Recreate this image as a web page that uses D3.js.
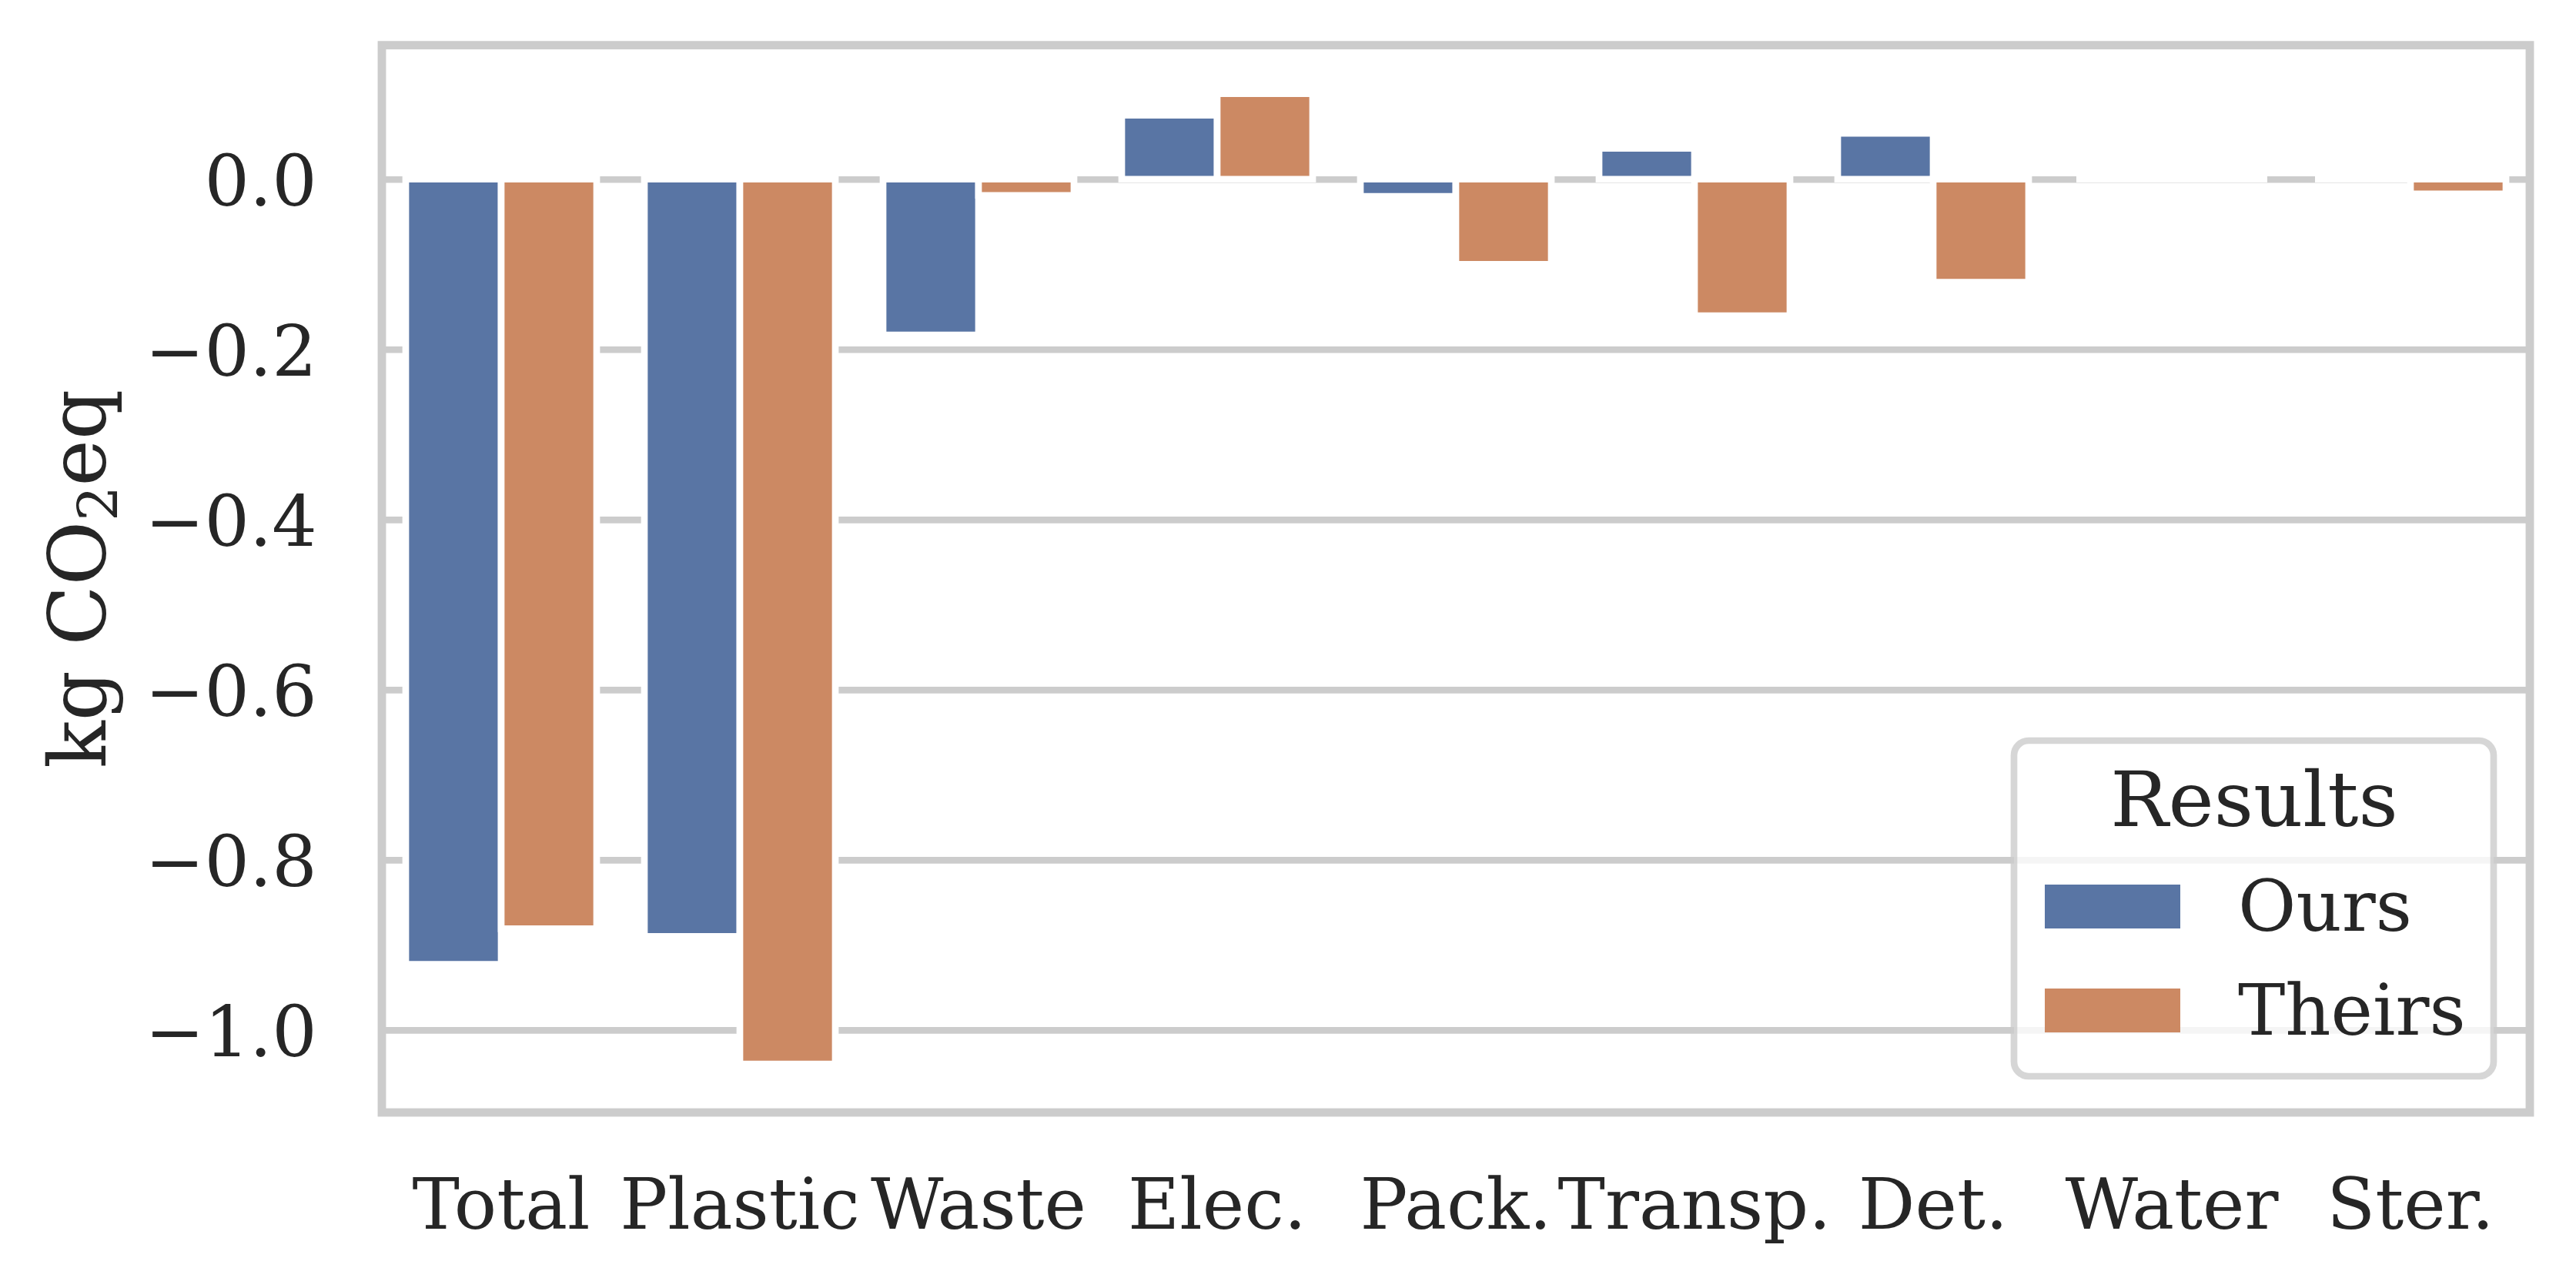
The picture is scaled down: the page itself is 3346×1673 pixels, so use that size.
<!DOCTYPE html>
<html><head><meta charset="utf-8">
<script src="https://cdn.jsdelivr.net/npm/d3@7"></script>
<style>html,body{margin:0;padding:0;background:#fff;} svg{display:block;}</style>
</head><body>
<svg id="chart" width="3346" height="1673"></svg>
<script>
// ---- data ----
const categories = ["Total", "Plastic", "Waste", "Elec.", "Pack.", "Transp.", "Det.", "Water", "Ster."];
const seriesNames = ["Ours", "Theirs"];
const oursValues = [-0.923, -0.890, -0.183, 0.0753, -0.0203, 0.0363, 0.054, 0, 0];
const theirsValues = [-0.881, -1.040, -0.019, 0.1005, -0.100, -0.1605, -0.121, 0, -0.0172];
const yTickValues = [0, -0.2, -0.4, -0.6, -0.8, -1.0];
const seriesColors = ["#5975a4", "#cc8963"];
const legendTitle = "Results";

// ---- layout ----
const W = 3346, H = 1673;
const plot = {left: 496, right: 3286, top: 58.7, bottom: 1445};
const FONT = "'DejaVu Serif', 'Liberation Serif', serif";
const textColor = "#262626";
const gridColor = "#cccccc";
const tickFs = 92, labelFs = 102, legendFs = 92, legendTitleFs = 100;
const ptPx = 8.7;

const svg = d3.select("#chart");
svg.append("rect").attr("width", W).attr("height", H).attr("fill", "#fff");

const seriesValues = {Ours: oursValues, Theirs: theirsValues};
const rows = [];
categories.forEach((c, i) => seriesNames.forEach(s => rows.push({cat: c, series: s, value: seriesValues[s][i]})));

const allVals = oursValues.concat(theirsValues, [0]);
const lo = d3.min(allVals), hi = d3.max(allVals), R = hi - lo;

const x = d3.scaleBand().domain(categories).range([plot.left, plot.right]).paddingInner(0).paddingOuter(0);
const bw = x.bandwidth();
const xHue = d3.scaleBand().domain(seriesNames).range([0.1 * bw, 0.9 * bw]).paddingInner(0).paddingOuter(0);
const y = d3.scaleLinear().domain([lo - 0.05 * R, hi + 0.05 * R]).range([plot.bottom, plot.top]);
const color = d3.scaleOrdinal().domain(seriesNames).range(seriesColors);

// gridlines
const grid = svg.append("g").attr("transform", `translate(${plot.left},0)`)
  .call(d3.axisLeft(y).tickValues(yTickValues).tickSize(-(plot.right - plot.left)).tickFormat(""));
grid.select(".domain").remove();
grid.selectAll(".tick line").attr("stroke", gridColor).attr("stroke-width", ptPx);

// bars
svg.append("g").selectAll("path").data(rows).join("path")
  .attr("d", d => {
    const x0 = x(d.cat) + xHue(d.series);
    const y0 = y(Math.max(0, d.value)), y1 = y(Math.min(0, d.value));
    const p = d3.path(); p.rect(x0, y0, xHue.bandwidth(), y1 - y0); return p.toString();
  })
  .attr("fill", d => color(d.series))
  .attr("stroke", "#ffffff").attr("stroke-width", ptPx).attr("stroke-linejoin", "miter");

// spines
svg.append("rect").attr("x", plot.left).attr("y", plot.top)
  .attr("width", plot.right - plot.left).attr("height", plot.bottom - plot.top)
  .attr("fill", "none").attr("stroke", gridColor).attr("stroke-width", 1.25 * ptPx);

// y tick labels
const yAxis = svg.append("g").attr("transform", `translate(411.7,0)`)
  .call(d3.axisLeft(y).tickValues(yTickValues).tickSize(0).tickPadding(0).tickFormat(d3.format(".1f")));
yAxis.select(".domain").remove();
yAxis.selectAll(".tick text").attr("x", 0).attr("dy", null).attr("y", 0.3645 * tickFs)
  .attr("text-anchor", "end").attr("font-family", FONT).attr("font-size", tickFs).attr("fill", textColor);

// x tick labels
const xAxis = svg.append("g").attr("transform", `translate(0,1596)`)
  .call(d3.axisBottom(x).tickSize(0).tickPadding(0));
xAxis.select(".domain").remove();
xAxis.selectAll(".tick text").attr("y", 0).attr("dy", null)
  .attr("text-anchor", "middle").attr("font-family", FONT).attr("font-size", tickFs).attr("fill", textColor);

// y label
const yl = svg.append("text").attr("transform", `translate(137,${(plot.top + plot.bottom) / 2}) rotate(-90)`)
  .attr("text-anchor", "middle").attr("font-family", FONT).attr("font-size", labelFs).attr("fill", textColor);
yl.append("tspan").text("kg CO");
yl.append("tspan").attr("font-size", labelFs * 0.7).attr("dy", 15).text("2");
yl.append("tspan").attr("dy", -15).text("eq");

// legend
const lg = svg.append("g");
lg.append("rect").attr("x", 2616).attr("y", 962).attr("width", 623).attr("height", 436).attr("rx", 19).attr("ry", 19)
  .attr("fill", "#ffffff").attr("fill-opacity", 0.8)
  .attr("stroke", gridColor).attr("stroke-opacity", 0.8).attr("stroke-width", ptPx);
lg.append("text").attr("x", 2928).attr("y", 1073).attr("text-anchor", "middle")
  .attr("font-family", FONT).attr("font-size", legendTitleFs).attr("fill", textColor).text(legendTitle);
const legendRowY = [1149, 1284];
const items = lg.selectAll("g.item").data(seriesNames).join("g").attr("class", "item");
items.append("rect").attr("x", 2656).attr("y", (d, i) => legendRowY[i]).attr("width", 176).attr("height", 57)
  .attr("fill", d => color(d));
items.append("text").attr("x", 2907).attr("y", (d, i) => legendRowY[i] + 60)
  .attr("font-family", FONT).attr("font-size", legendFs).attr("fill", textColor).text(d => d);
</script>
</body></html>
